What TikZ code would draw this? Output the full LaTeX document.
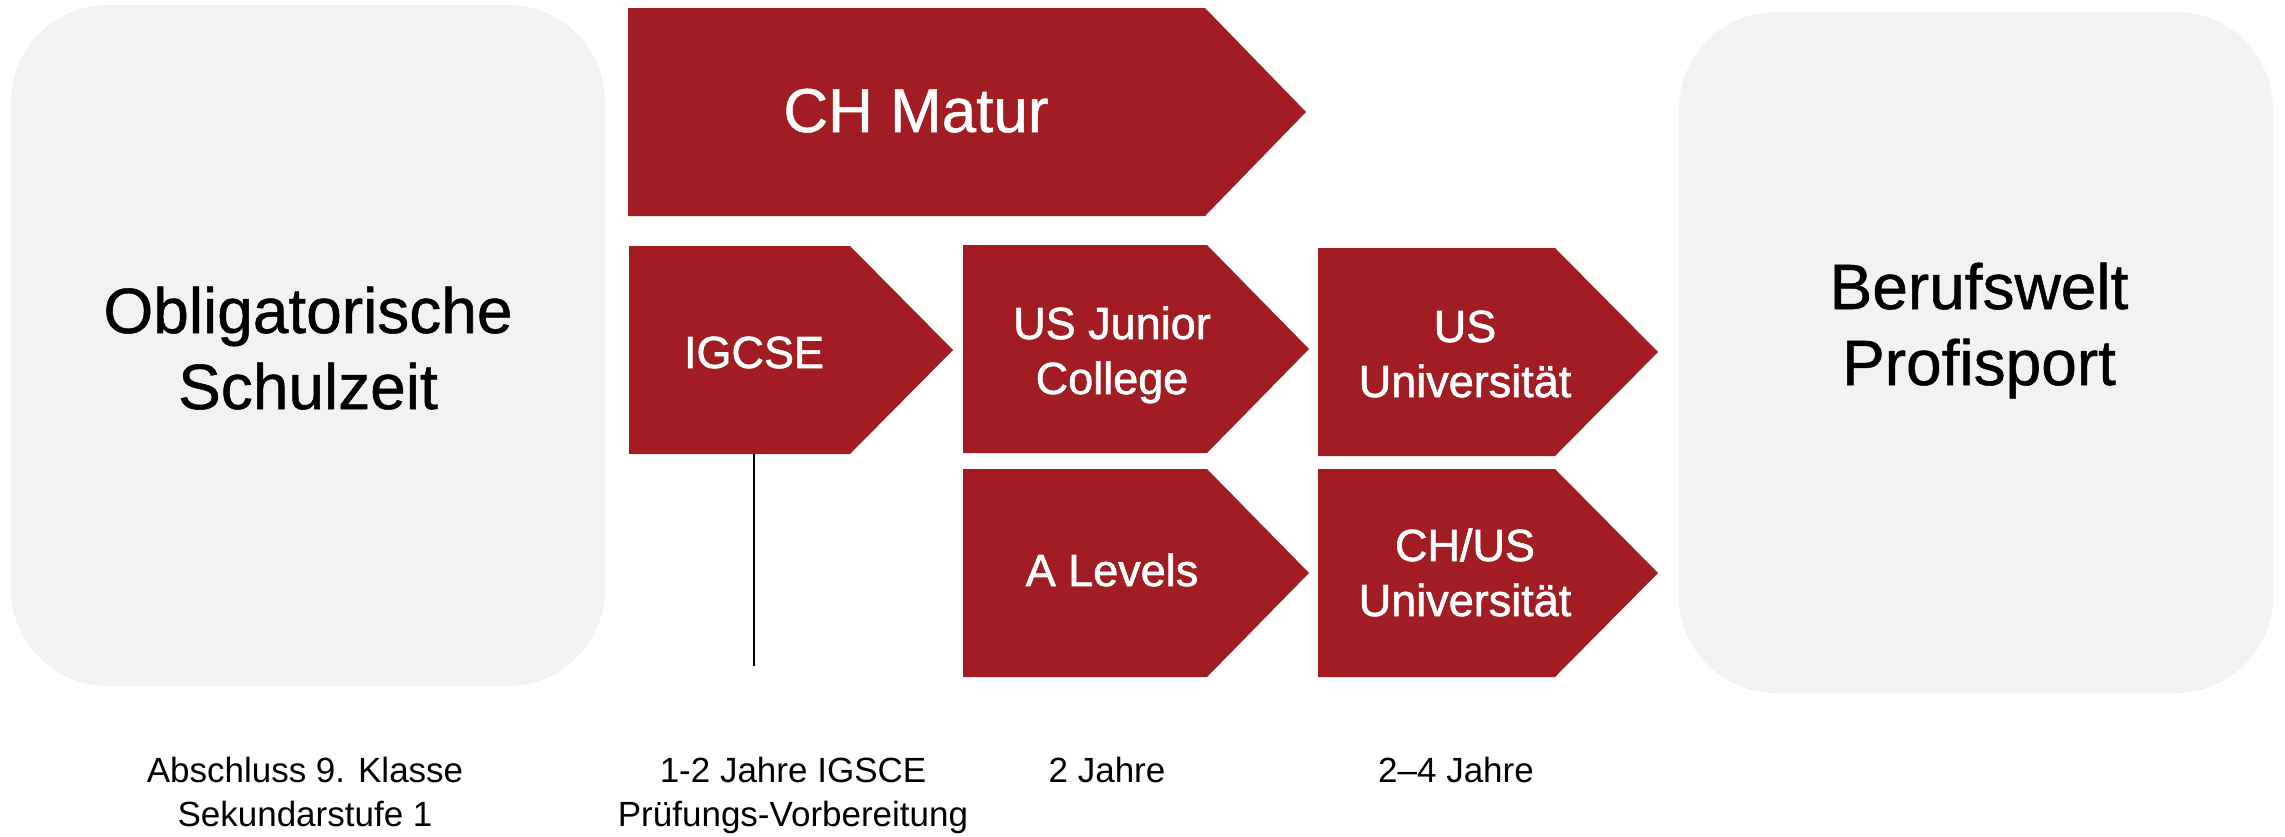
\documentclass[tikz,border=0pt]{standalone}
\usepackage{fontspec}
\setmainfont{Liberation Sans}
\newfontfamily\semib[FakeBold=1.4]{Liberation Sans}
\newfontfamily\medf[FakeBold=0.8]{Liberation Sans}
\definecolor{brick}{HTML}{A11C23}
\definecolor{paper}{HTML}{F2F2F2}
\newcommand{\pentarrow}[5]{\fill[brick] (#1,#2) -- (#3,#2) -- (#4,{(#2+#5)/2}) -- (#3,#5) -- (#1,#5) -- cycle;}
\begin{document}
\begin{tikzpicture}[x=1pt,y=-1pt,
  bigtxt/.style={anchor=base, align=center, inner sep=0pt, font=\medf\fontsize{64}{76}\selectfont},
  mattxt/.style={anchor=base, align=center, inner sep=0pt, text=white, font=\medf\fontsize{62}{74}\selectfont},
  arrtxt/.style={anchor=base, align=center, inner sep=0pt, text=white, font=\semib\fontsize{45}{55}\selectfont},
  smalltxt/.style={anchor=base, align=center, inner sep=0pt, font=\fontsize{35}{44}\selectfont},
  greybox/.style={fill=paper, rounded corners=97pt}]
\useasboundingbox (0,0) rectangle (2285,836);
% grey boxes
\fill[greybox] (11,5) rectangle (605,686);
\fill[greybox] (1679,12) rectangle (2273,693);
% arrows
\pentarrow{628}{8}{1205}{1306}{216}
\pentarrow{629}{246}{850}{953}{454}
\pentarrow{963}{245}{1207}{1309}{453}
\pentarrow{963}{469}{1207}{1309}{677}
\pentarrow{1318}{248}{1555}{1658}{456}
\pentarrow{1318}{469}{1555}{1658}{677}
% texts (base anchor = last line's baseline)
\node[bigtxt] (obl) at (308,409) {Obligatorische\\Schulzeit};
\node[bigtxt] (beruf) at (1979,385) {Berufswelt\\Profisport};
\node[mattxt] (matur) at (916,132) {CH Matur};
\node[arrtxt] (igcse) at (754,368) {IGCSE};
\node[arrtxt] (usjc) at (1112,394) {US Junior\\College};
\node[arrtxt] (alev) at (1112,586) {A Levels};
\node[arrtxt] (usu) at (1465,397) {US\\Universität};
\node[arrtxt] (chus) at (1465,616) {CH/US\\Universität};
\node[smalltxt] (lab1) at (305,826) {Abschluss 9. Klasse\\Sekundarstufe 1};
\node[smalltxt] (lab2) at (793,826) {1-2 Jahre IGSCE\\Prüfungs-Vorbereitung};
\node[smalltxt] (lab3) at (1107,782) {2 Jahre};
\node[smalltxt] (lab4) at (1456,782) {2–4 Jahre};
% connector
\coordinate (igtop) at (754,454);
\coordinate (igend) at (754,666);
\draw[line width=1.3pt] (igtop) -- (igend);
\end{tikzpicture}
\end{document}
